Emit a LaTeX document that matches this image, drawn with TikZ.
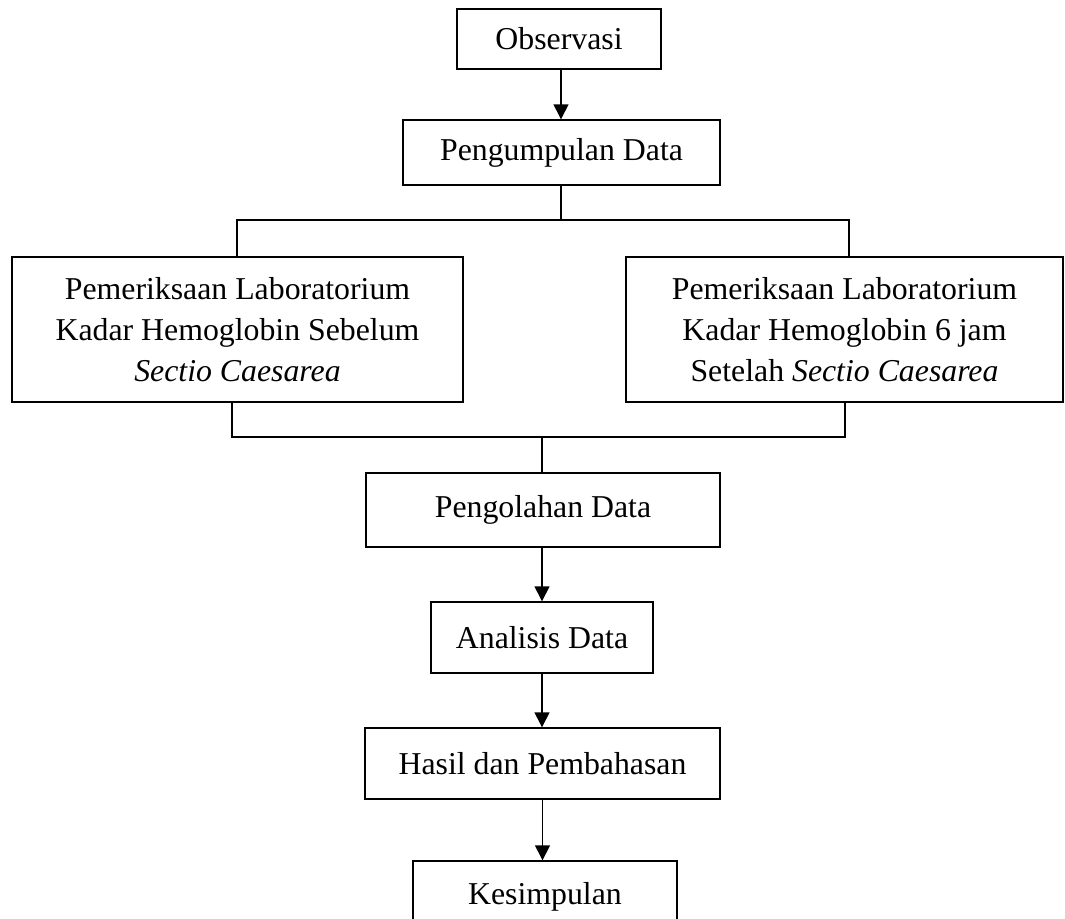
\documentclass[tikz,border=0pt]{standalone}
\usepackage{fontspec}
\setmainfont{Liberation Serif}
\usetikzlibrary{arrows.meta}
\begin{document}
\begin{tikzpicture}[x=1pt,y=-1pt,
  box/.style={draw,line width=1.4pt,inner sep=0pt,align=center,
    font=\fontsize{31.8}{41}\selectfont},
  conn/.style={line width=1.4pt},
  arr/.style={line width=1.4pt,-{Triangle[length=15pt,width=15pt]}}]
\clip (0,0) rectangle (1065,918);
\node[box,minimum width=204pt,minimum height=60pt] (obs) at (559,39) {Observasi};
\node[box,minimum width=317pt,minimum height=65pt] (peng) at (561.5,152.5) {Pengumpulan Data};
\node[box,minimum width=451pt,minimum height=145pt] (left) at (237.5,329.5)
  {Pemeriksaan Laboratorium\\Kadar Hemoglobin Sebelum\\\textit{Sectio Caesarea}};
\node[box,minimum width=437pt,minimum height=145pt] (right) at (844.5,329.5)
  {Pemeriksaan Laboratorium\\Kadar Hemoglobin 6 jam\\Setelah \textit{Sectio Caesarea}};
\node[box,minimum width=354pt,minimum height=74pt] (olah) at (543,510) {Pengolahan Data};
\node[box,minimum width=222pt,minimum height=71pt] (anal) at (542,637.5) {Analisis Data};
\node[box,minimum width=355pt,minimum height=71pt] (hasil) at (542.5,763.5) {Hasil dan Pembahasan};
\node[box,minimum width=264pt,minimum height=72pt] (kes) at (545,897) {Kesimpulan};
\coordinate (t) at (561,220);
\coordinate (tl) at (237,220);
\coordinate (tr) at (849,220);
\coordinate (bl) at (232,437);
\coordinate (br) at (845,437);
\coordinate (b) at (542,437);
\draw[arr] (obs.south -| t) -- (t |- peng.north);
\draw[conn] (peng.south -| t) -- (t);
\draw[conn] (tl |- left.north) -- (tl) -- (tr) -- (tr |- right.north);
\draw[conn] (bl |- left.south) -- (bl) -- (br) -- (br |- right.south);
\draw[conn] (b) -- (b |- olah.north);
\draw[arr] (olah.south -| b) -- (b |- anal.north);
\draw[arr] (anal.south -| b) -- (b |- hasil.north);
\draw[arr] (hasil.south) -- (hasil.south |- kes.north);
\end{tikzpicture}
\end{document}
